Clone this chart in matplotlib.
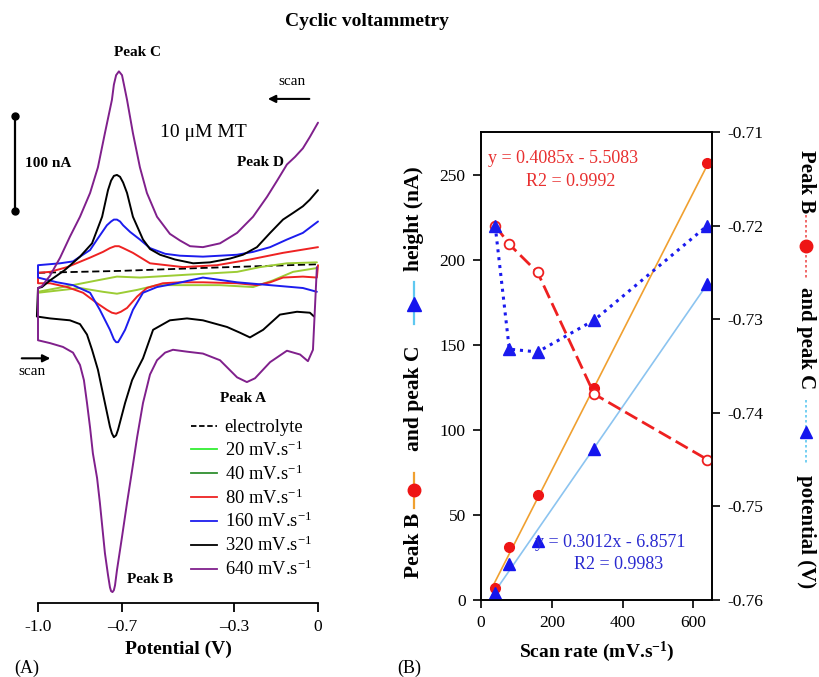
import matplotlib
matplotlib.use('Agg')
import matplotlib.pyplot as plt
from matplotlib.lines import Line2D
import numpy as np

plt.rcParams['font.family'] = ['Liberation Serif', 'DejaVu Serif']
plt.rcParams['mathtext.fontset'] = 'custom'
plt.rcParams['mathtext.rm'] = 'Liberation Serif'
plt.rcParams['mathtext.bf'] = 'Liberation Serif:bold'
plt.rcParams['mathtext.it'] = 'Liberation Serif:italic'

# ---------------- data: panel A (potential V, current nA) ----------------
v_640 = [0, -0.029, -0.054, -0.082, -0.111, -0.146, -0.182, -0.232, -0.289, -0.35, -0.411, -0.457,
         -0.493, -0.529, -0.575, -0.611, -0.636, -0.661, -0.682, -0.693, -0.7, -0.711, -0.721, -0.729,
         -0.736, -0.761,
         -0.786, -0.814, -0.85, -0.886, -0.921, -0.957, -0.986, -1.0,
         -1.0, -0.957, -0.911, -0.875, -0.85, -0.836, -0.825, -0.814, -0.804, -0.789, -0.779, -0.761,
         -0.75, -0.743, -0.739, -0.734, -0.729, -0.725, -0.718, -0.7, -0.682, -0.664, -0.646, -0.625,
         -0.6, -0.575,
         -0.546, -0.518, -0.468, -0.411, -0.35, -0.289, -0.254, -0.225, -0.171, -0.111, -0.064,
         -0.036, -0.018, -0.004]
i_640 = [155, 140, 128, 119, 111, 94, 77, 56, 39, 28, 24, 25,
         31, 38, 56, 81, 108, 144, 179, 195, 205, 209, 205, 195,
         179, 144,
         108, 81, 56, 35, 13, -6, -17, -19,
         -74, -77, -81, -87, -100, -116, -140, -166, -193, -219, -245, -298,
         -321, -334, -338, -339, -337, -332, -316, -281, -245, -211, -176, -140,
         -110, -95,
         -87, -84, -86, -88, -95, -113, -118, -114, -97, -85, -89,
         -96, -84, 3]

v_320 = [0, -0.029, -0.054, -0.089, -0.125, -0.171, -0.218, -0.268, -0.314, -0.386, -0.446, -0.511,
         -0.564, -0.6, -0.625, -0.661, -0.682, -0.696, -0.707, -0.718, -0.729, -0.739, -0.75, -0.771,
         -0.807, -0.85,
         -0.904, -0.957, -0.986, -1.0,
         -1.004, -0.957, -0.886, -0.85, -0.825, -0.807, -0.786, -0.761, -0.743, -0.736, -0.729, -0.721,
         -0.714, -0.689,
         -0.664, -0.646, -0.625, -0.589, -0.529, -0.468, -0.411, -0.325, -0.279, -0.243, -0.196, -0.136,
         -0.075, -0.029, -0.014]
i_320 = [84, 74, 67, 60, 53, 39, 24, 16, 12, 8, 7, 11,
         16, 22, 32, 56, 81, 92, 98, 100, 99, 94, 84, 56,
         28, 14,
         0, -11, -18, -19,
         -49, -51, -53, -57, -68, -84, -105, -140, -165, -172, -176, -174,
         -168, -140,
         -116, -105, -93, -63, -53, -51, -53, -60, -66, -71, -63, -47,
         -44, -45, -49]

v_160 = [0, -0.054, -0.111, -0.171, -0.232, -0.289, -0.411, -0.493, -0.546, -0.6, -0.636, -0.671,
         -0.696, -0.707, -0.718, -0.729, -0.739, -0.754, -0.789, -0.814, -0.85, -0.875, -0.921, -1.0,
         -1.0, -0.932, -0.875, -0.814, -0.779, -0.743, -0.729, -0.721, -0.714, -0.704, -0.689, -0.661,
         -0.625, -0.575, -0.504,
         -0.411, -0.289, -0.171, -0.054, -0.004]
i_160 = [51, 39, 32, 24, 19, 16, 14, 15, 17, 23, 32, 40,
         47, 51, 53, 53, 51, 47, 32, 21, 14, 9, 7, 5,
         -8, -13, -16, -24, -42, -63, -73, -76, -76, -71, -63, -42,
         -24, -18, -14,
         -8, -13, -16, -19, -23]

v_80 = [0, -0.125, -0.243, -0.361, -0.482, -0.6, -0.661, -0.696, -0.711, -0.725, -0.743, -0.768,
        -0.814, -0.896, -0.957, -1.0,
        -1.0, -0.957, -0.896, -0.839, -0.789, -0.754, -0.736, -0.721, -0.704, -0.682, -0.646, -0.611,
        -0.554, -0.493,
        -0.411, -0.289, -0.218, -0.171, -0.125, -0.054, -0.004, 0]
i_80 = [24, 18, 11, 5, 3, 7, 18, 23, 25, 25, 23, 19,
        13, 3, -2, -3,
        -14, -14, -18, -24, -35, -42, -45, -46, -44, -40, -28, -19,
        -14, -13,
        -13, -14, -16, -13, -8, -7, -8, 5]

v_40 = [-1.0, -0.911, -0.789, -0.718, -0.636, -0.468, -0.289, -0.207, -0.111, -0.004]
i_40 = [-23, -18, -11, -7, -8, -5, -2, 3, 7, 8]

v_20 = [-1.0, -0.85, -0.768, -0.718, -0.646, -0.575, -0.468, -0.35, -0.232, -0.161, -0.089, -0.004]
i_20 = [-24, -19, -23, -25, -21, -16, -16, -16, -18, -11, -2, 2]

v_electrolyte = [-1.0, -0.707, -0.421, 0.0]
i_electrolyte = [-3, -1, 2, 6]

xticks_A = [-1.0, -0.7, -0.3, 0.0]
xtick_labels_A = ['-1.0', '\u20130.7', '\u20130.3', '0']
legend_rates = [20, 40, 80, 160, 320, 640]

# ---------------- data: panel B ----------------
scan_rate = np.array([40, 80, 160, 320, 640])
height_B = [7, 31, 62, 125, 257]
height_C = [4, 21, 35, 89, 186]
potential_B = [-0.720, -0.722, -0.725, -0.738, -0.745]
potential_C = [-0.720, -0.7332, -0.7335, -0.7301, -0.720]
fit_B = (0.4085, -5.5083, 0.9992)
fit_C = (0.3012, -6.8571, 0.9983)

# ---------------- layout helpers ----------------
W, H = 819, 677
fig = plt.figure(figsize=(W / 100, H / 100), dpi=100)


def fx(px):
    return px / W


def fy(py):
    return 1 - py / H


PURPLE = '#80208c'
BLUE = '#1c1cee'
RED = '#ee2222'
LIME = '#9ccc34'

# ================= Panel A =================
axA = fig.add_axes([fx(38), fy(603), fx(318) - fx(38), fy(40) - fy(603)])
axA.set_xlim(-1.0, 0.0)
axA.set_ylim(-350.5, 242)
for s in ['top', 'right', 'left']:
    axA.spines[s].set_visible(False)
axA.spines['bottom'].set_linewidth(1.3)
axA.set_yticks([])
axA.set_xticks(xticks_A)
axA.set_xticklabels(xtick_labels_A)
axA.tick_params(axis='x', direction='out', length=6.5, width=1.3, labelsize=12.5, pad=5)
axA.set_xlabel('Potential (V)', fontsize=14, fontweight='bold', labelpad=4)

lw = 1.4
kw = dict(lw=lw, clip_on=False, solid_joinstyle='round', solid_capstyle='round')
axA.plot(v_electrolyte, i_electrolyte, color='k', lw=1.3, ls=(0, (4, 2)), clip_on=False)
axA.plot(v_20, i_20, color=LIME, **kw)
axA.plot(v_40, i_40, color=LIME, **kw)
axA.plot(v_80, i_80, color=RED, **kw)
axA.plot(v_160, i_160, color=BLUE, **kw)
axA.plot(v_320, i_320, color='k', **kw)
axA.plot(v_640, i_640, color=PURPLE, **kw)

# scale bar 100 nA
axA.plot([-1.082, -1.082], [62, 162], color='k', lw=1.6, marker='o', ms=5, clip_on=False)
axA.text(-0.964, 112, '100 nA', fontsize=11, fontweight='bold', ha='center', va='center')

axA.text(-0.643, 229, 'Peak C', fontsize=11, fontweight='bold', ha='center', va='center')
axA.text(-0.204, 113, 'Peak D', fontsize=11, fontweight='bold', ha='center', va='center')
axA.text(-0.268, -135, 'Peak A', fontsize=11, fontweight='bold', ha='center', va='center')
axA.text(-0.60, -326, 'Peak B', fontsize=11, fontweight='bold', ha='center', va='center')
axA.text(-0.411, 145, '10 \u03bcM MT', fontsize=14, ha='center', va='center')

axA.text(-0.093, 198, 'scan', fontsize=11, ha='center', va='center')
axA.annotate('', xy=(-0.189, 180), xytext=(-0.021, 180),
             arrowprops=dict(arrowstyle='-|>', color='k', lw=1.5, mutation_scale=11))
axA.text(-1.021, -107, 'scan', fontsize=11, ha='center', va='center', clip_on=False)
axA.annotate('', xy=(-0.946, -93), xytext=(-1.068, -93), annotation_clip=False,
             arrowprops=dict(arrowstyle='-|>', color='k', lw=1.5, mutation_scale=11))

leg_colors = ['#33ee33', '#2f8f2f', RED, BLUE, 'k', PURPLE]
handles = [Line2D([], [], color='k', lw=1.3, ls=(0, (3, 1.5)))] + \
          [Line2D([], [], color=c, lw=1.3) for c in leg_colors]
labels = ['electrolyte'] + ['%d mV.s$^{-1}$' % r for r in legend_rates]
fig.legend(handles, labels, loc='upper left', bbox_to_anchor=(fx(191), fy(419)),
           frameon=False, fontsize=13.3, handlelength=1.4, handletextpad=0.42,
           labelspacing=0.24, borderpad=0, borderaxespad=0)

# ================= Panel B =================
axB = fig.add_axes([fx(481), fy(600), fx(712) - fx(481), fy(132) - fy(600)])
axB.set_xlim(0, 653)
axB.set_ylim(0, 275.3)
axB.set_xticks([0, 200, 400, 600])
axB.set_yticks([0, 50, 100, 150, 200, 250])
for s in axB.spines.values():
    s.set_linewidth(1.2)
axB.tick_params(direction='out', length=6, width=1.2, labelsize=12.5, pad=5)
axB.set_xlabel('Scan rate (mV.s$^{\\mathbf{-1}}$)', fontsize=14, fontweight='bold', labelpad=6)

fit_x = np.array([30, 640])
axB.plot(fit_x, fit_B[0] * fit_x + fit_B[1], color='#f0a030', lw=1.2, zorder=2)
axB.plot(fit_x, fit_C[0] * fit_x + fit_C[1], color='#8cc4f0', lw=1.2, zorder=2)
axB.plot(scan_rate, height_B, ls='none', marker='o', ms=7, color='#ee1515', zorder=3)
axB.plot(scan_rate, height_C, ls='none', marker='^', ms=8.5, color='#1515ee', zorder=3)

axB.text(19.8, 260, 'y = %.4fx - %.4f' % (fit_B[0], -fit_B[1]), color='#e83030', fontsize=13,
         ha='left', va='center')
axB.text(254.6, 246, 'R2 = %.4f' % fit_B[2], color='#e83030', fontsize=13, ha='center', va='center')
axB.text(152.8, 34, 'y = %.4fx - %.4f' % (fit_C[0], -fit_C[1]), color='#2a2ad0', fontsize=13,
         ha='left', va='center')
axB.text(390, 20.6, 'R2 = %.4f' % fit_C[2], color='#2a2ad0', fontsize=13, ha='center', va='center')

axB2 = axB.twinx()
axB2.set_ylim(-0.76, -0.71)
axB2.set_yticks([-0.76, -0.75, -0.74, -0.73, -0.72, -0.71])
axB2.set_yticklabels(['%.2f' % t for t in [-0.76, -0.75, -0.74, -0.73, -0.72, -0.71]])
axB2.tick_params(direction='out', length=6, width=1.2, labelsize=12.5, pad=5)
for s in axB2.spines.values():
    s.set_linewidth(1.2)
axB2.plot(scan_rate, potential_B, color='#ee2020', lw=2.0, ls=(0, (5, 2)), marker='o', ms=7,
          mfc='white', mec='#ee2020', mew=1.3)
axB2.plot(scan_rate, potential_C, color='#1a1aee', lw=2.2, ls=(0, (1, 1.6)), marker='^', ms=8.5,
          mfc='#1a1aee', mec='#1a1aee')

# composite y labels
lab_l = dict(rotation=90, fontsize=15.5, fontweight='bold', ha='center', va='center')
xl = 414
fig.text(fx(xl), fy(545), 'Peak B', **lab_l)
fig.add_artist(Line2D([fx(xl)] * 2, [fy(508), fy(473)], color='#f0a030', lw=1.6, transform=fig.transFigure))
fig.add_artist(Line2D([fx(xl)], [fy(490)], marker='o', ms=9, color='#ee1515', transform=fig.transFigure))
fig.text(fx(xl), fy(398), 'and peak C', **lab_l)
fig.add_artist(Line2D([fx(xl)] * 2, [fy(324), fy(282)], color='#5ec8f0', lw=1.6, transform=fig.transFigure))
fig.add_artist(Line2D([fx(xl)], [fy(304)], marker='^', ms=10, color='#1515ee', transform=fig.transFigure))
fig.text(fx(xl), fy(219), 'height (nA)', **lab_l)

lab_r = dict(rotation=-90, fontsize=15, fontweight='bold', ha='center', va='center')
xr = 806
fig.text(fx(xr), fy(182), 'Peak B', **lab_r)
fig.add_artist(Line2D([fx(xr)] * 2, [fy(215), fy(278)], color='#ee5050', lw=1.2, ls=(0, (1.5, 1.5)),
                      transform=fig.transFigure))
fig.add_artist(Line2D([fx(xr)], [fy(246)], marker='o', ms=9, color='#ee1515', transform=fig.transFigure))
fig.text(fx(xr), fy(338), 'and peak C', **lab_r)
fig.add_artist(Line2D([fx(xr)] * 2, [fy(400), fy(463)], color='#5ec8f0', lw=1.2, ls=(0, (1.5, 1.5)),
                      transform=fig.transFigure))
fig.add_artist(Line2D([fx(xr)], [fy(432)], marker='^', ms=9, color='#1515ee', transform=fig.transFigure))
fig.text(fx(xr), fy(532), 'potential (V)', **lab_r)

# titles and panel tags
fig.text(fx(367), fy(22), 'Cyclic voltammetry', fontsize=14, fontweight='bold', ha='center', va='center')
fig.text(fx(27), fy(668), '(A)', fontsize=13, ha='center', va='center')
fig.text(fx(409), fy(668), '(B)', fontsize=13, ha='center', va='center')

fig.savefig('out.png', dpi=100)
